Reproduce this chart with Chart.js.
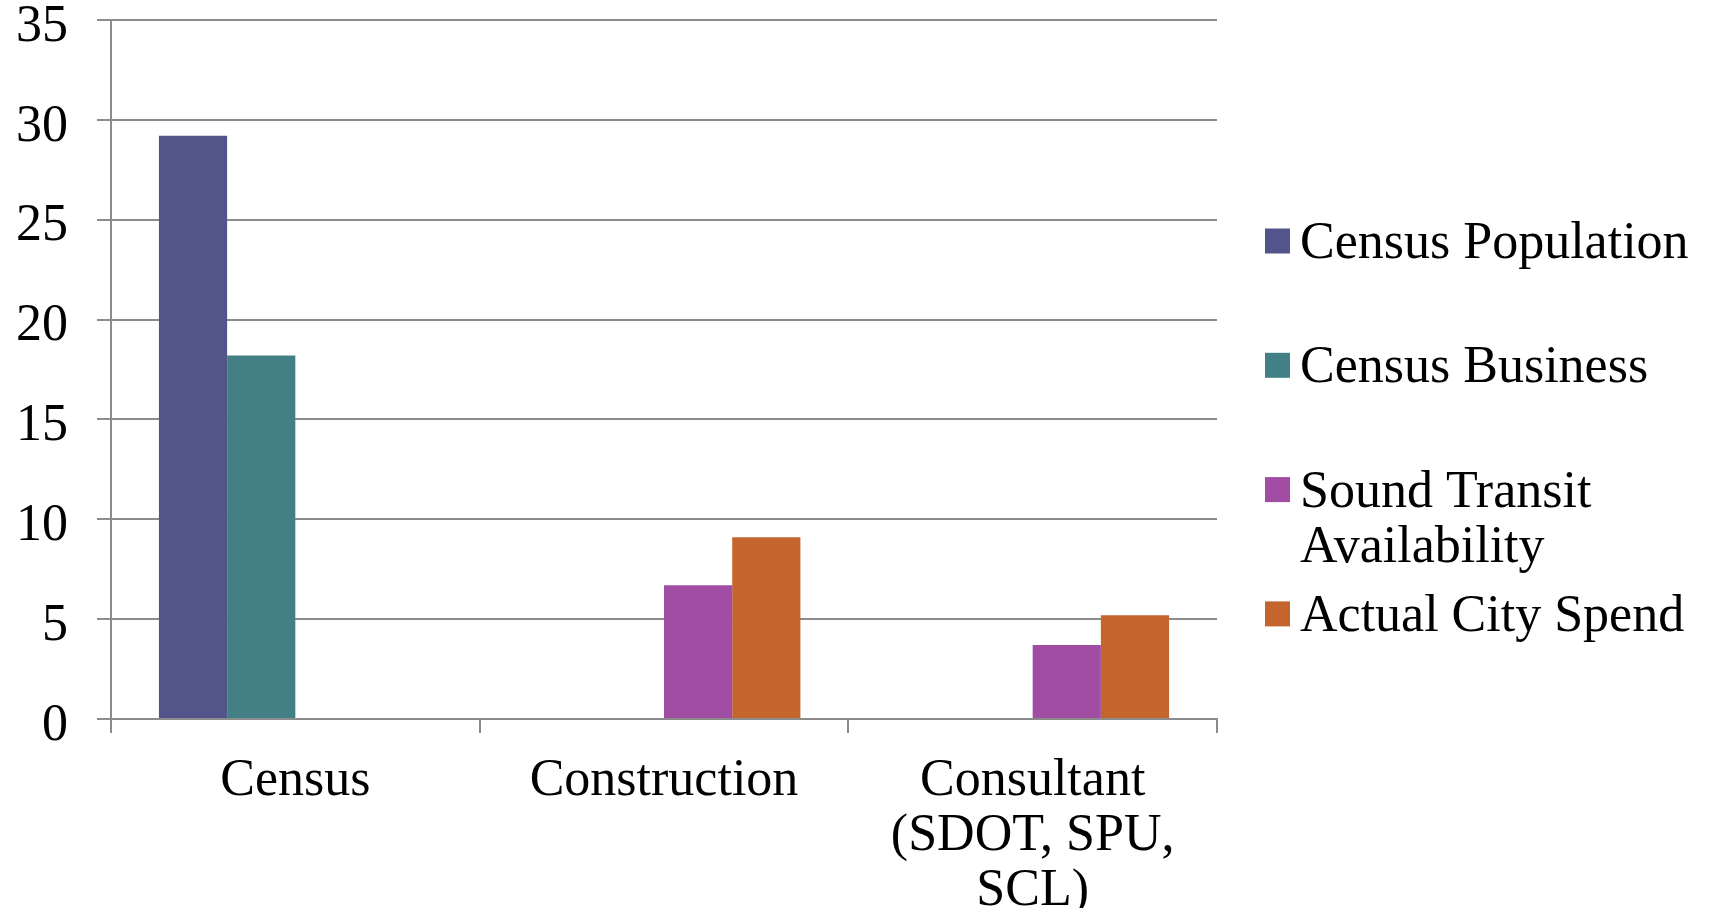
<!DOCTYPE html>
<html>
<head>
<meta charset="utf-8">
<script src="https://cdn.jsdelivr.net/npm/chart.js@4"></script>
<style>
  html, body { margin: 0; padding: 0; background: #fff; }
  #wrap { width: 1714px; height: 908px; }
</style>
</head>
<body>
<div id="wrap"><canvas id="chart" width="1714" height="908"></canvas></div>
<script>
const categories = ['Census', 'Construction', ['Consultant', '(SDOT, SPU,', 'SCL)']];
const seriesNames = ['Census Population', 'Census Business', 'Sound Transit Availability', 'Actual City Spend'];
const censusPopulation = [29.2, null, null];
const censusBusiness = [18.2, null, null];
const soundTransit = [null, 6.7, 3.7];
const citySpend = [null, 9.1, 5.2];
const yTicks = [0, 5, 10, 15, 20, 25, 30, 35];

const colors = ['#53548A', '#438086', '#A04DA3', '#C4652D'];
const FONT = '"Liberation Serif", "Times New Roman", serif';
const gridColor = '#8c8c8c';

// legend drawn by hand so the long name can wrap like the original
const sideLegend = {
  id: 'sideLegend',
  afterDraw(chart) {
    const { ctx, chartArea } = chart;
    const boxX = chartArea.right + 48;
    const textX = boxX + 35;
    const maxW = 1714 - textX - 8;
    ctx.save();
    ctx.font = '52px ' + FONT;
    ctx.fillStyle = '#000';
    ctx.textBaseline = 'alphabetic';
    chart.data.datasets.forEach((ds, i) => {
      const cy = 241 + i * 124.3;
      ctx.fillStyle = ds.backgroundColor;
      ctx.fillRect(boxX, cy - 12.5, 25, 25);
      ctx.fillStyle = '#000';
      // simple word wrap
      const words = ds.label.split(' ');
      const lines = [];
      let line = '';
      words.forEach(w => {
        const test = line ? line + ' ' + w : w;
        if (ctx.measureText(test).width > maxW && line) {
          lines.push(line);
          line = w;
        } else {
          line = test;
        }
      });
      lines.push(line);
      lines.forEach((l, k) => ctx.fillText(l, textX, cy + 17 + k * 55));
    });
    ctx.restore();
  }
};

new Chart(document.getElementById('chart').getContext('2d'), {
  type: 'bar',
  data: {
    labels: categories,
    datasets: [
      { label: seriesNames[0], data: censusPopulation, backgroundColor: colors[0] },
      { label: seriesNames[1], data: censusBusiness, backgroundColor: colors[1] },
      { label: seriesNames[2], data: soundTransit, backgroundColor: colors[2] },
      { label: seriesNames[3], data: citySpend, backgroundColor: colors[3] }
    ]
  },
  options: {
    responsive: false,
    animation: false,
    categoryPercentage: 0.74,
    barPercentage: 1.0,
    layout: { padding: { top: 20, right: 497, left: 0, bottom: 0 } },
    plugins: {
      legend: { display: false },
      tooltip: { enabled: false }
    },
    scales: {
      x: {
        grid: {
          offset: true,
          drawOnChartArea: false,
          drawTicks: true,
          tickLength: 14,
          color: gridColor,
          lineWidth: 2
        },
        border: { display: true, color: gridColor, width: 2 },
        ticks: {
          color: '#000',
          padding: 21,
          maxRotation: 0,
          autoSkip: false,
          font: { family: FONT, size: 52, lineHeight: 1.06 }
        },
        afterFit(scale) {
          scale.height = 189;
          scale.paddingLeft = 0;
          scale.paddingRight = 0;
        }
      },
      y: {
        min: 0,
        max: 35,
        afterBuildTicks(scale) {
          scale.ticks = yTicks.map(v => ({ value: v }));
        },
        grid: {
          drawTicks: true,
          tickLength: 14,
          color: gridColor,
          lineWidth: 2
        },
        border: { display: true, color: gridColor, width: 2 },
        ticks: {
          color: '#000',
          padding: 29,
          // empty first line nudges the number a little below its grid line
          callback: (v) => ['', String(v)],
          font: { family: FONT, size: 52, lineHeight: 0.27 }
        },
        afterFit(scale) {
          scale.width = 111;
          scale.paddingTop = 0;
          scale.paddingBottom = 0;
        }
      }
    }
  },
  plugins: [sideLegend]
});
</script>
</body>
</html>
